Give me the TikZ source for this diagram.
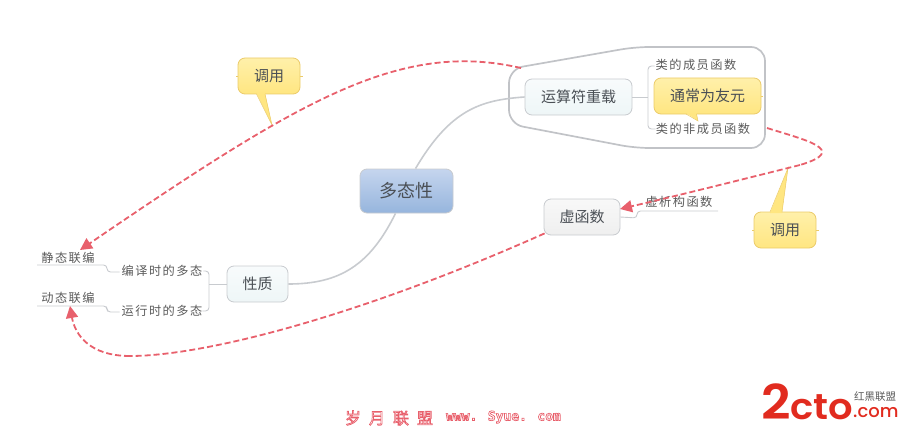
\documentclass[tikz,border=0pt]{standalone}
\usepackage{fontspec}
\setmainfont{Noto Sans CJK SC}
\newfontfamily\cjkwide[LetterSpace=12]{Noto Sans CJK SC}
\newfontfamily\cjkbold[Weight=Bold]{Noto Sans CJK SC}
\newfontfamily\latbold{DejaVu Sans Mono Bold}
\newfontfamily\logofont[FakeStretch=1.07]{Poppins SemiBold}
\newfontfamily\logolight{Poppins Medium}
\usetikzlibrary{arrows.meta}
\definecolor{txt}{HTML}{4A4F55}
\definecolor{soft}{HTML}{5A5A5A}
\definecolor{edge}{HTML}{C8CBCF}
\definecolor{rel}{HTML}{E8606C}
\definecolor{calloutline}{HTML}{EBCB6A}
\definecolor{calloutfill}{HTML}{FFE681}
\definecolor{logored}{HTML}{E12B1F}
\tikzset{
 box/.style={draw=edge,line width=.8pt,rounded corners=7pt,inner sep=0pt,text=txt,font=\fontsize{15}{17}\selectfont},
 rootnode/.style={box,minimum width=93pt,minimum height=44pt,font=\fontsize{18}{20}\selectfont,top color={rgb,255:red,197;green,213;blue,238},middle color={rgb,255:red,150;green,181;blue,221},bottom color={rgb,255:red,150;green,181;blue,221}},
 tealbox/.style={box,top color={rgb,255:red,248;green,251;blue,252},middle color={rgb,255:red,238;green,246;blue,247},bottom color={rgb,255:red,238;green,246;blue,247}},
 graybox/.style={box,top color={rgb,255:red,248;green,248;blue,248},middle color={rgb,255:red,239;green,239;blue,239},bottom color={rgb,255:red,239;green,239;blue,239}},
 callout/.style={box,draw=calloutline,top color={rgb,255:red,255;green,240;blue,170},middle color=calloutfill,bottom color=calloutfill},
 label/.style={inner sep=0pt,text=soft,font=\cjkwide\fontsize{12.2}{14}\selectfont},
 branch/.style={draw=edge,line width=.9pt,rounded corners=3.5pt},
 topicline/.style={draw=edge,line width=1.6pt},
 stub/.style={draw=calloutline,line width=.7pt},
 relline/.style={draw=rel,line width=1.8pt,dash pattern=on 6pt off 3pt,-{Triangle[length=12pt,width=12pt,fill=rel]}},
 boundary/.style={draw=edge!90!gray,line width=1.7pt,rounded corners=14pt},
}
\begin{document}
\begin{tikzpicture}[x=1pt,y=-1pt]
\useasboundingbox (0,0) rectangle (900,428);

% boundary
\draw[boundary] (572,58) -- (635,47) -- (765,47) -- (765,148) -- (635,148) -- (509,124) -- (509,69) -- cycle;

% attachment points
\coordinate (relAstart) at (521,68);
\coordinate (relBstart) at (767,128);
\coordinate (relBbend) at (800,165);
\coordinate (relCbend) at (130,356);
\coordinate (tipS) at (80,250);
\coordinate (tipD) at (70,306);
\coordinate (tipV) at (620,209);

% nodes
\node[rootnode] (root) at (406.5,191) {多态性};
\node[tealbox,minimum width=107pt,minimum height=36pt] (opload) at (578.5,97) {运算符重载};
\node[graybox,minimum width=76pt,minimum height=36pt] (virt) at (582,217) {虚函数};
\node[tealbox,minimum width=61pt,minimum height=36pt] (prop) at (257.5,284) {性质};

\node[label] (member) at (696,65) {类的成员函数};
\node[label] (nonmember) at (703,128.5) {类的非成员函数};
\node[label] (dtor) at (679,202) {虚析构函数};
\node[label] (compile) at (162,271) {编译时的多态};
\node[label] (runtime) at (162,311) {运行时的多态};
\node[label] (staticb) at (68,257.5) {静态联编};
\node[label] (dynb) at (68,298) {动态联编};

% topic lines
\draw[topicline] (root.north) ++(9,0) .. controls (450,110) and (480,100) .. (opload.west);
\draw[topicline] (root.south) ++(-11,0) .. controls (370,265) and (340,284) .. (prop.east);

% branches
\draw[branch] (opload.east) -- (648,97);
\draw[branch] (member.west) ++(-1,1) -| (648,129) -- (nonmember.west |- 0,129);
\draw[branch] (virt.east) -- (637,218) -- (637,211) -- (718,211);
\draw[branch] (prop.west) -- (209,284);
\draw[branch] (compile.east) ++(1,0) -| (209,311) -- (runtime.east);
\draw[branch] (compile.west) ++(-2,1) -- (107,272) -- (107,265) -- (37,265);
\draw[branch] (runtime.west) ++(-2,1) -- (107,312) -- (107,306) -- (37,306);

% callouts
\draw[stub] (236,76) -- (303,76);
\draw[stub] (752,230) -- (819,230);
\draw[stub] (755,96) -- (763,96);
\node[callout,minimum width=107pt,minimum height=36pt] (friend) at (707.5,96) {通常为友元};
\node[callout,minimum width=62pt,minimum height=36pt] (callA) at (269,76) {调用};
\node[callout,minimum width=62pt,minimum height=36pt] (callB) at (785,230) {调用};
\coordinate (tipA) at (272,125);
\coordinate (tipB) at (788,168);
\coordinate (tipF) at (698,121);
\fill[calloutfill] (256.5,93) -- (tipA) -- (265,93) -- cycle;
\draw[calloutline,line width=.5pt] (256.5,94) -- (tipA) -- (265,94);
\fill[calloutfill] (770,213) -- (tipB) -- (782,213) -- cycle;
\draw[calloutline,line width=.5pt] (770,212) -- (tipB) -- (782,212);
\fill[calloutfill] (686,113) -- (tipF) -- (696.5,113) -- cycle;
\draw[calloutline,line width=.5pt] (686,114) -- (tipF) -- (696.5,114);

% relationships
\draw[relline] (relAstart) .. controls (400,40) and (300,100) .. (tipS);
\draw[relline,-] (relBstart) .. controls (805,140) and (850,150) .. (relBbend);
\draw[relline] (relBbend) .. controls (740,180) and (680,195) .. (tipV);
\draw[relline,-] (virt.south west) ++(1,-2) .. controls (350,320) and (200,356) .. (relCbend);
\draw[relline] (relCbend) .. controls (90,356) and (75,335) .. (tipD);

% watermark
\node[inner sep=0pt,text=rel,font=\cjkbold\fontsize{16}{18}\selectfont] (wmcn) at (389,418) {\special{pdf:code 1 Tr 0.7 w}岁\hspace{8pt}月\hspace{8pt}联\hspace{8pt}盟\special{pdf:code 0 Tr}};
\node[inner sep=0pt,text=rel,font=\latbold\fontsize{13}{15}\selectfont] (wmen) at (503.5,417) {\special{pdf:code 1 Tr 0.7 w}www. Syue. com\special{pdf:code 0 Tr}};

% logo
\node[inner sep=0pt,text=logored,anchor=base west] (logoa) at (761,419) {\logofont\fontsize{48}{48}\selectfont 2\fontsize{36}{36}\selectfont cto};
\node[inner sep=0pt,text=logored,font=\logolight\fontsize{18}{18}\selectfont,anchor=base west] (logob) at (853,417.5) {.com};
\node[inner sep=0pt,text=soft,font=\fontsize{10.5}{12}\selectfont] (logoc) at (875,397) {红黑联盟};
\end{tikzpicture}
\end{document}
